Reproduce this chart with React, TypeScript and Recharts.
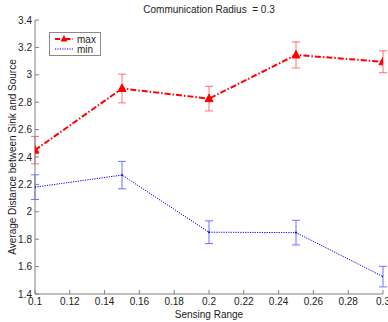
import { ErrorBar, Legend, Line, LineChart, XAxis, YAxis } from "recharts";

const sensingRange = [0.1, 0.15, 0.2, 0.25, 0.3];
const maxDist = [2.45, 2.9, 2.826, 3.145, 3.095];
const maxErr = [0.1, 0.105, 0.09, 0.095, 0.08];
const minDist = [2.18, 2.268, 1.851, 1.848, 1.527];
const minErr = [0.09, 0.1, 0.083, 0.09, 0.075];

const xTicks = [0.1, 0.12, 0.14, 0.16, 0.18, 0.2, 0.22, 0.24, 0.26, 0.28, 0.3];
const yTicks = [1.4, 1.6, 1.8, 2, 2.2, 2.4, 2.6, 2.8, 3, 3.2, 3.4];

const rows = sensingRange.map((x, i) => ({
  x,
  max: maxDist[i],
  maxErr: maxErr[i],
  min: minDist[i],
  minErr: minErr[i]
}));

const FONT = "'Liberation Sans', Arial, sans-serif";
const AXIS = "#808080";

function Triangle(props: any) {
  const { cx, cy } = props;
  if (cx == null || cy == null) return null;
  return <polygon points={`${cx},${cy - 4.5} ${cx - 4},${cy + 3} ${cx + 4},${cy + 3}`} fill="#ff0000" stroke="#ff0000" />;
}

function SmallDot(props: any) {
  const { cx, cy } = props;
  if (cx == null || cy == null) return null;
  return <circle cx={cx} cy={cy} r={1} fill="#0000ff" />;
}

function LegendBox() {
  return (
    <div style={{ border: "1px solid #888", background: "#fff", width: 50, height: 22, fontFamily: FONT, fontSize: 10, color: "#222" }}>
      <svg width={50} height={22} style={{ display: "block" }}>
        <line x1={5} x2={23} y1={6} y2={6} stroke="#ff0000" strokeWidth={2} strokeDasharray="5 2 1.5 2" />
        <polygon points="14,2 10.5,8.5 17.5,8.5" fill="#ff0000" />
        <text x={27} y={9.5} fill="#222">max</text>
        <line x1={5} x2={23} y1={16} y2={16} stroke="#0000ff" strokeWidth={1} strokeDasharray="1.2 1.2" />
        <text x={27} y={19.5} fill="#222">min</text>
      </svg>
    </div>
  );
}

export default function App() {
  return (
    <div style={{ position: "relative", width: 388, height: 322, background: "#fff", fontFamily: FONT }}>
      <style>{"body{margin:0}"}</style>
      <div style={{ position: "absolute", top: 4, left: 35, width: 348, textAlign: "center", fontSize: 10, color: "#222" }}>
        Communication Radius&nbsp; = 0.3
      </div>
      <LineChart width={388} height={322} data={rows} margin={{ top: 20, right: 5, bottom: 6, left: 0 }}>
        <XAxis
          dataKey="x"
          type="number"
          domain={[0.1, 0.3]}
          ticks={xTicks}
          interval={0}
          allowDataOverflow
          stroke={AXIS}
          tickSize={-4}
          tickMargin={8}
          height={22}
          tick={{ fontSize: 10, fill: "#222", fontFamily: FONT }}
          label={{ value: "Sensing Range", position: "insideBottom", offset: -2, fontSize: 10, fill: "#222" }}
        />
        <YAxis
          type="number"
          domain={[1.4, 3.4]}
          ticks={yTicks}
          interval={0}
          allowDataOverflow
          stroke={AXIS}
          width={35}
          tickSize={-4}
          tickMargin={7}
          tick={{ fontSize: 10, fill: "#222", fontFamily: FONT }}
          label={{
            value: "Average Distance between Sink and Source",
            angle: -90,
            position: "insideLeft",
            offset: 12,
            fontSize: 10,
            fill: "#222",
            style: { textAnchor: "middle" }
          }}
        />
        <Legend
          layout="vertical"
          align="center"
          verticalAlign="middle"
          wrapperStyle={{ top: 32, left: 49, width: 52 }}
          content={() => <LegendBox />}
        />
        <Line
          dataKey="max"
          stroke="#ff0000"
          strokeWidth={2}
          strokeDasharray="6 2 1.5 2"
          dot={<Triangle />}
          activeDot={false}
          isAnimationActive={false}
        >
          <ErrorBar dataKey="maxErr" direction="y" width={4} stroke="#ff7070" strokeWidth={1} />
        </Line>
        <Line
          dataKey="min"
          stroke="#0000ff"
          strokeWidth={1}
          strokeDasharray="1.2 1.2"
          dot={<SmallDot />}
          activeDot={false}
          isAnimationActive={false}
        >
          <ErrorBar dataKey="minErr" direction="y" width={4} stroke="#7070ff" strokeWidth={1} />
        </Line>
      </LineChart>
    </div>
  );
}
